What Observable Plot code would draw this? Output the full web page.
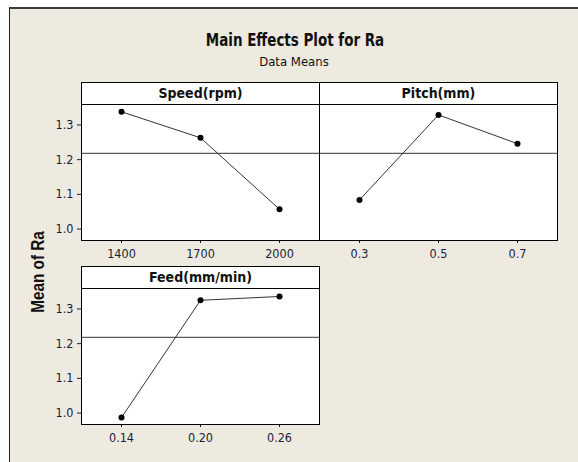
<!DOCTYPE html>
<html>
<head>
<meta charset="utf-8">
<script src="https://cdn.jsdelivr.net/npm/d3@7"></script>
<script src="https://cdn.jsdelivr.net/npm/@observablehq/plot@0.6"></script>
<style>
  html, body { margin: 0; padding: 0; background: #ffffff; }
  #stage { position: relative; width: 578px; height: 462px; overflow: hidden; background: #ffffff; }
  #panelbg { position: absolute; left: 9px; top: 7px; right: 0; bottom: 0; background: #eeeae0;
             border-top: 2px solid #3a3a3a; border-left: 1px solid #1a1a3a; }
  .txt { position: absolute; font-family: "DejaVu Sans Condensed", "DejaVu Sans", sans-serif; color: #111; white-space: nowrap; }
  #title { left: 295px; top: 30px; transform: translateX(-50%) scaleX(0.88); font-weight: bold; font-size: 17px; }
  #subtitle { left: 294px; top: 54px; transform: translateX(-50%); font-size: 13px; }
  .strip { position: absolute; box-sizing: border-box; height: 23px; background: #fff; border: 1px solid #000;
           font-family: "DejaVu Sans Condensed", "DejaVu Sans", sans-serif; font-weight: bold; font-size: 14px;
           text-align: center; line-height: 20px; color: #111; }
  #ylab { position: absolute; left: 38px; top: 272px; transform: translate(-50%, -50%) rotate(-90deg) scaleX(0.85);
          font-family: "Liberation Sans", Arial, sans-serif; font-weight: bold; font-size: 18px; color: #111; white-space: nowrap; }
  .plotbox { position: absolute; }
</style>
</head>
<body>
<div id="stage">
  <div id="panelbg"></div>
  <div id="title" class="txt">Main Effects Plot for Ra</div>
  <div id="subtitle" class="txt">Data Means</div>
  <div id="ylab">Mean of Ra</div>
</div>
<script>
// ---- data ----
const speedLevels = ["1400", "1700", "2000"];
const speedMeans  = [1.338, 1.263, 1.057];
const pitchLevels = ["0.3", "0.5", "0.7"];
const pitchMeans  = [1.084, 1.329, 1.246];
const feedLevels  = ["0.14", "0.20", "0.26"];
const feedMeans   = [0.987, 1.325, 1.336];
const yTicks      = [1.0, 1.1, 1.2, 1.3];
const panelTitles = ["Speed(rpm)", "Pitch(mm)", "Feed(mm/min)"];

const grandMean = d3.mean([...speedMeans, ...pitchMeans, ...feedMeans]);
const stage = document.getElementById("stage");

function makePanel(levels, means, title, opts) {
  const data = levels.map((l, i) => ({level: l, mean: means[i]}));
  const plot = Plot.plot({
    width: opts.width,
    height: 1 + 136 + 30,
    marginLeft: opts.marginLeft,
    marginRight: 1,
    marginTop: 1,
    marginBottom: 30,
    style: {background: "transparent", fontFamily: "'DejaVu Sans Condensed', 'DejaVu Sans', sans-serif", fontSize: "12.5px", color: "#1c1c3c", overflow: "visible"},
    x: {type: "point", domain: levels, padding: 0.5, label: null, tickSize: 3, tickPadding: 6},
    y: {domain: [0.967, 1.359], ticks: yTicks, tickFormat: d3.format(".1f"), label: null,
        tickSize: 4, tickPadding: 4, axis: opts.showY ? "left" : null},
    marks: [
      Plot.frame({fill: "white", stroke: null}),
      Plot.ruleY([grandMean], {stroke: "#333", strokeWidth: 1}),
      Plot.line(data, {x: "level", y: "mean", stroke: "#333", strokeWidth: 1}),
      Plot.dot(data, {x: "level", y: "mean", r: 3, fill: "#000", stroke: null}),
      Plot.frame({stroke: "#000", strokeWidth: 1})
    ]
  });
  const box = document.createElement("div");
  box.className = "plotbox";
  box.style.left = opts.left + "px";
  box.style.top = opts.top + "px";
  box.appendChild(plot);
  stage.appendChild(box);

  const strip = document.createElement("div");
  strip.className = "strip";
  strip.style.left = opts.stripLeft + "px";
  strip.style.top = (opts.top - 21) + "px";
  strip.style.width = opts.stripWidth + "px";
  strip.textContent = title;
  stage.appendChild(strip);
}

makePanel(speedLevels, speedMeans, panelTitles[0], {left: 0, top: 103, width: 320, marginLeft: 81, showY: true, stripLeft: 81, stripWidth: 239});
makePanel(pitchLevels, pitchMeans, panelTitles[1], {left: 318, top: 103, width: 240, marginLeft: 1, showY: false, stripLeft: 319, stripWidth: 239});
makePanel(feedLevels, feedMeans, panelTitles[2], {left: 0, top: 287, width: 320, marginLeft: 81, showY: true, stripLeft: 81, stripWidth: 239});
</script>
</body>
</html>
